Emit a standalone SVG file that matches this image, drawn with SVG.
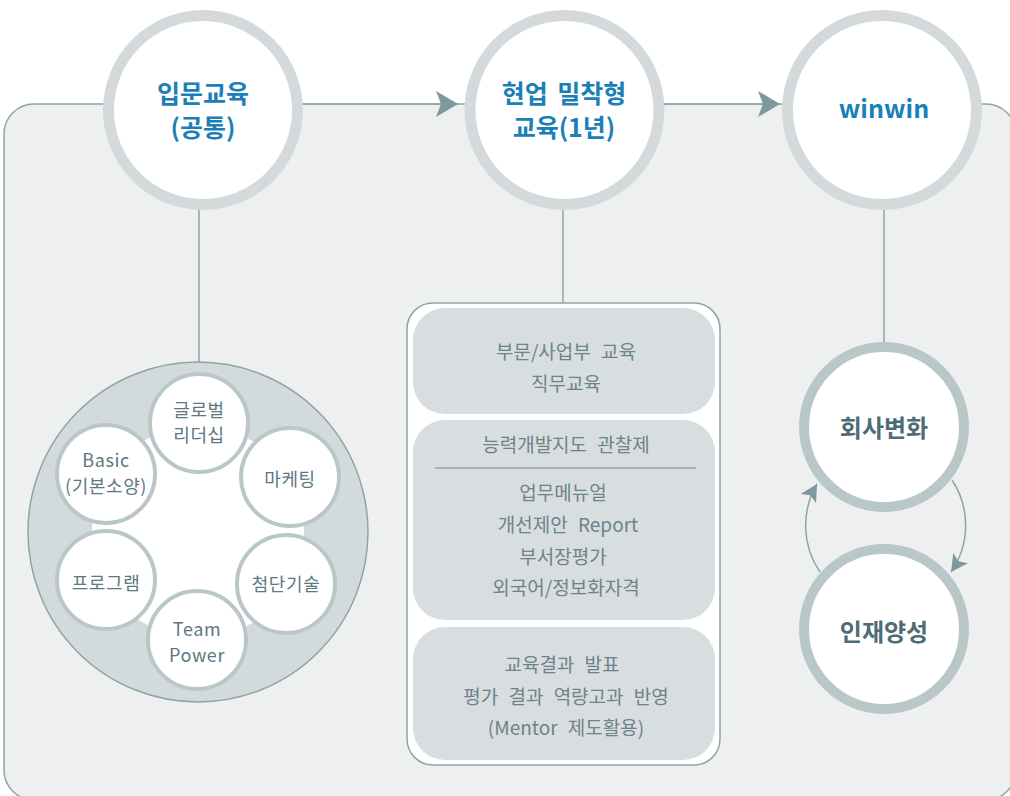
<svg xmlns="http://www.w3.org/2000/svg" width="1010" height="796" viewBox="0 0 1010 796">
<style>
text{font-family:"Noto Sans CJK KR","Noto Sans",sans-serif;text-anchor:middle}
.top{font-size:25px;font-weight:bold;fill:#1a80b7}
.ring{fill:#fff;stroke:#d4dadc;stroke-width:11}
.sm{fill:#fff;stroke:#b9c7c9;stroke-width:4}
.smt{font-size:18px;letter-spacing:0.6px;fill:#5d7880}
.pt{font-size:19px;word-spacing:6px;fill:#6c838a}
.box{fill:#d8dee0}
.rc{fill:#fff;stroke:#b9c7c9;stroke-width:10}
.rt{font-size:24px;font-weight:bold;fill:#4f6b75}
.ln{stroke:#8ea4a8;stroke-width:1.5;fill:none}
</style>
<defs>
<marker id="ah" markerWidth="24" markerHeight="28" refX="22" refY="13" orient="auto" markerUnits="userSpaceOnUse">
<path d="M0,0 L22,13 L0,26 L5,13 Z" fill="#7d999d"/>
</marker>
<marker id="ah2" markerWidth="20" markerHeight="20" refX="17" refY="9" orient="auto" markerUnits="userSpaceOnUse">
<path d="M0,0 L17,9 L0,18 L4,9 Z" fill="#7d999d"/>
</marker>
</defs>
<rect x="4" y="104" width="1012" height="696" rx="30" fill="#eef0f0" stroke="#8ea4a8" stroke-width="1.5"/>
<g id="connectors">
<line class="ln" x1="303" y1="104" x2="458" y2="104" marker-end="url(#ah)"/>
<line class="ln" x1="664" y1="104" x2="780" y2="104" marker-end="url(#ah)"/>
<line class="ln" x1="199" y1="209" x2="199" y2="363"/>
<line class="ln" x1="563" y1="209" x2="563" y2="304"/>
<line class="ln" x1="884" y1="209" x2="884" y2="342"/>
<path class="ln" d="M952,480 A82,82 0 0 1 951,572" marker-end="url(#ah2)"/>
<path class="ln" d="M820,572 A82,82 0 0 1 817,484" marker-end="url(#ah2)"/>
</g>
<g id="n-intro">
<circle class="ring" cx="203" cy="110" r="94.5"/>
<text class="top" x="203" y="103">입문교육</text>
<text class="top" x="203" y="137">(공통)</text>
</g>
<g id="n-onjob">
<circle class="ring" cx="564.5" cy="110" r="94.5"/>
<text class="top" x="564" y="103" word-spacing="4">현업 밀착형</text>
<text class="top" x="564" y="137">교육(1년)</text>
</g>
<g id="n-winwin">
<circle class="ring" cx="882" cy="110" r="94.5"/>
<text class="top" x="884" y="118">winwin</text>
</g>
<g id="n-cluster">
<circle cx="198" cy="532" r="170" fill="#d3dadc" stroke="#8ea4a8" stroke-width="1.5"/>
<circle cx="198" cy="532" r="106" fill="#fff"/>
</g>
<g id="n-global">
<circle class="sm" cx="199" cy="423" r="49"/>
<text class="smt" x="199" y="417">글로벌</text>
<text class="smt" x="199" y="442">리더십</text>
</g>
<g id="n-basic">
<circle class="sm" cx="106" cy="474" r="49"/>
<text class="smt" x="106" y="467">Basic</text>
<text class="smt" x="106" y="493">(기본소양)</text>
</g>
<g id="n-marketing">
<circle class="sm" cx="290" cy="477" r="49"/>
<text class="smt" x="290" y="486">마케팅</text>
</g>
<g id="n-program">
<circle class="sm" cx="106" cy="580" r="49"/>
<text class="smt" x="106" y="590">프로그램</text>
</g>
<g id="n-tech">
<circle class="sm" cx="286" cy="584" r="49"/>
<text class="smt" x="286" y="591">첨단기술</text>
</g>
<g id="n-team">
<circle class="sm" cx="197" cy="640" r="49"/>
<text class="smt" x="197" y="636">Team</text>
<text class="smt" x="197" y="662">Power</text>
</g>
<g id="n-panel">
<rect x="407" y="303" width="313" height="462" rx="26" fill="#fff" stroke="#8ea4a8" stroke-width="1.5"/>
<rect class="box" x="413" y="308" width="302" height="106" rx="32"/>
<rect class="box" x="413" y="420" width="302" height="200" rx="32"/>
<rect class="box" x="413" y="627" width="302" height="133" rx="32"/>
<text class="pt" x="566" y="359">부문/사업부 교육</text>
<text class="pt" x="566" y="391">직무교육</text>
<text class="pt" x="566" y="452">능력개발지도 관찰제</text>
<line x1="435" y1="468" x2="696" y2="468" stroke="#8ea4a8" stroke-width="1.5"/>
<text class="pt" x="563" y="500">업무메뉴얼</text>
<text class="pt" x="568" y="532">개선제안 Report</text>
<text class="pt" x="563" y="564">부서장평가</text>
<text class="pt" x="566" y="595">외국어/정보화자격</text>
<text class="pt" x="562" y="672">교육결과 발표</text>
<text class="pt" x="566" y="704">평가 결과 역량고과 반영</text>
<text class="pt" x="566" y="735">(Mentor 제도활용)</text>
</g>
<g id="n-change">
<circle class="rc" cx="884" cy="427" r="80"/>
<text class="rt" x="884" y="437">회사변화</text>
</g>
<g id="n-talent">
<circle class="rc" cx="884" cy="629" r="80"/>
<text class="rt" x="884" y="641">인재양성</text>
</g>
</svg>
